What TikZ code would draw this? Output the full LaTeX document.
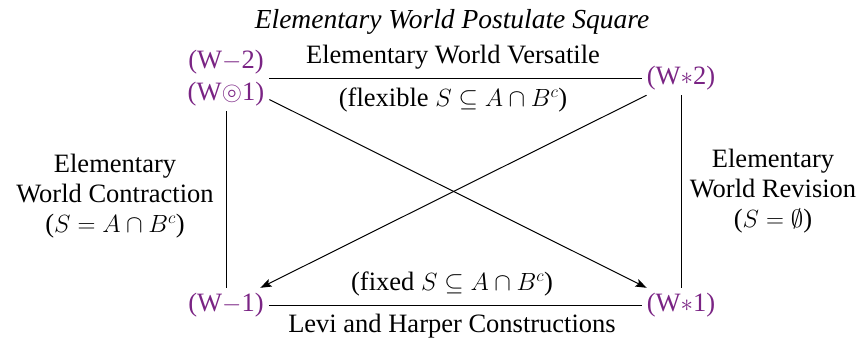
\documentclass[tikz,border=0pt]{standalone}
\usepackage{amssymb}
\usepackage{fontspec}
\setmainfont{Liberation Serif}
\usetikzlibrary{arrows.meta}
\definecolor{nodecol}{RGB}{122,36,132}
\begin{document}
\begin{tikzpicture}[x=1pt,y=-1pt,
  every node/.style={font=\fontsize{26.5}{30}\selectfont},
  vert/.style={text=nodecol,inner sep=5pt,align=center},
  lbl/.style={align=center,inner sep=0pt},
  conn/.style={line width=1pt},
  arr/.style={line width=1pt,-{Stealth[length=11pt,width=8pt,inset=2pt]}}]
\useasboundingbox (0,0) rectangle (859,341);
\node[lbl,font=\fontsize{27.5}{30}\selectfont\itshape] (title) at (452,22) {Elementary World Postulate Square};
\node[vert,font=\fontsize{26.5}{32}\selectfont] (tl) at (226,78) {(W$-$2)\\(W$\circledcirc$1)};
\node[vert] (tr) at (681,78) {(W$*$2)};
\node[vert] (bl) at (226,305) {(W$-$1)};
\node[vert] (br) at (681,305) {(W$*$1)};
\draw[conn] (tl) -- (tr);
\draw[conn] (bl) -- (br);
\draw[conn] (tl) -- (bl);
\draw[conn] (tr) -- (br);
\draw[arr] (tl) -- (br);
\draw[arr] (tr) -- (bl);
\node[lbl] (vers) at (453,57) {Elementary World Versatile};
\node[lbl] (flex) at (453,100) {(flexible $S\subseteq A\cap B^c$)};
\node[lbl] (fixed) at (452,284) {(fixed $S\subseteq A\cap B^c$)};
\node[lbl] (levi) at (452,326) {Levi and Harper Constructions};
\node[lbl] (contr) at (115,196) {Elementary\\World Contraction\\($S=A\cap B^c$)};
\node[lbl] (revis) at (773,191) {Elementary\\World Revision\\($S=\emptyset$)};
\end{tikzpicture}
\end{document}
